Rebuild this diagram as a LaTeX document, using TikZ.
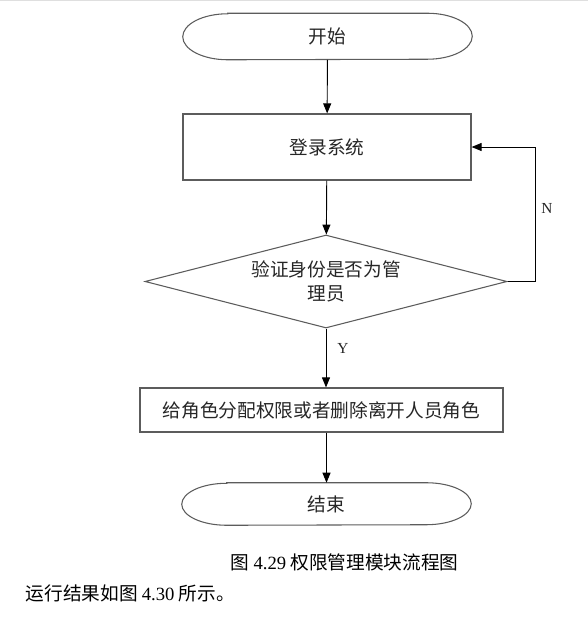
\documentclass[tikz,border=0pt]{standalone}
\usepackage{fontspec}
\setmainfont{Liberation Serif}
\newfontfamily\cjk{Noto Sans CJK SC}
\usetikzlibrary{arrows.meta,shapes.geometric}
\definecolor{boxgray}{rgb}{0.36,0.36,0.36}

\begin{document}
\begin{tikzpicture}[
  x=0.75pt, y=-0.75pt,
  >={Triangle[length=7.5pt,width=6pt]},
  every node/.style={font=\cjk\fontsize{14}{18}\selectfont, text=black!85},
  terminal/.style={rectangle, minimum width=216.75pt, minimum height=34.5pt, inner sep=0pt},
  termline/.style={draw=boxgray, line width=0.8pt},
  process/.style={rectangle, draw=boxgray, line width=0.9pt, inner sep=0pt},
  decision/.style={diamond, draw=boxgray, line width=0.8pt, aspect=3.9, inner sep=0pt,
    minimum width=271.5pt, minimum height=69.75pt, align=center},
  edge/.style={->, line width=0.7pt},
  yesno/.style={font=\fontsize{11.5}{13}\selectfont},
  caption/.style={font=\cjk\fontsize{14}{18}\selectfont, text=black},
]
\useasboundingbox (0,0) rectangle (588,628);
\draw[gray!25, line width=0.75pt] (0,0.5) -- (588,0.5);

% ---- flow steps ----
\node[terminal] (start) at (327.5,36.5) {开始};
\node[process, minimum width=216pt, minimum height=49.5pt] (login) at (327,147) {登录系统};
\node[decision] (check) at (326,281.5) {验证身份是否为管\\理员};
\node[process, minimum width=272.25pt, minimum height=33pt] (assign) at (321.5,410) {给角色分配权限或者删除离开人员角色};
\node[terminal, minimum height=31.5pt] (stop) at (326.5,504) {结束};

% ---- terminator outlines (elliptic ends) ----
\draw[termline] ([xshift=33.75pt]start.north west) -- ([xshift=-33.75pt]start.north east)
  arc[start angle=90, end angle=-90, x radius=33.75pt, y radius=17.25pt]
  -- ([xshift=33.75pt]start.south west)
  arc[start angle=270, end angle=90, x radius=33.75pt, y radius=17.25pt] -- cycle;
\draw[termline] ([xshift=33.75pt]stop.north west) -- ([xshift=-33.75pt]stop.north east)
  arc[start angle=90, end angle=-90, x radius=33.75pt, y radius=15.75pt]
  -- ([xshift=33.75pt]stop.south west)
  arc[start angle=270, end angle=90, x radius=33.75pt, y radius=15.75pt] -- cycle;

% ---- branch labels ----
\node[yesno] (lblN) at (547,208) {N};
\node[yesno] (lblY) at (343,348) {Y};

% ---- edges ----
\draw[edge] (start) -- (login);
\draw[edge] (login) -- (check);
\draw[edge] (check.south) -- (check.south |- assign.north);
\draw[edge] (stop.north |- assign.south) -- (stop);
\draw[edge] (check.east) -- ++(28,0) |- (login.east);

% ---- caption and body text ----
\node[caption] (fig) at (344.5,562) {图 {\rmfamily 4.29} 权限管理模块流程图};
\node[caption, anchor=west] (note) at (21,593) {运行结果如图 {\rmfamily 4.30} 所示。};

\end{tikzpicture}
\end{document}
